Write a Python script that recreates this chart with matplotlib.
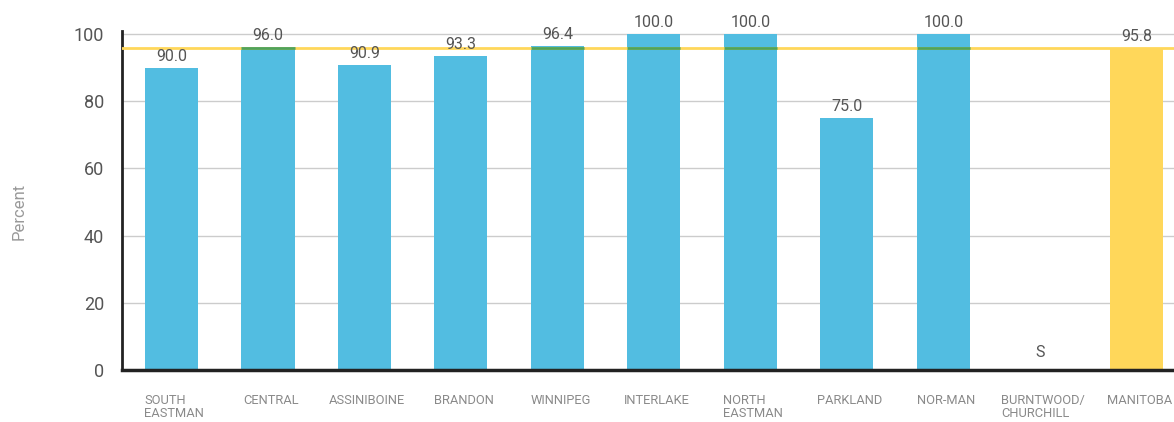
import matplotlib.pyplot as plt

# Data
regions = ['SOUTH\nEASTMAN', 'CENTRAL', 'ASSINIBOINE', 'BRANDON', 'WINNIPEG', 'INTERLAKE',
           'NORTH\nEASTMAN', 'PARKLAND', 'NOR-MAN', 'BURNTWOOD/\nCHURCHILL', 'MANITOBA']
values = [90.0, 96.0, 90.9, 93.3, 96.4, 100.0, 100.0, 75.0, 100.0, None, 95.8]
manitoba_avg = 95.8
yticks = [0, 20, 40, 60, 80, 100]

blue = '#52BDE1'
yellow = '#FFD75A'
green = '#4FA35C'
bar_w = 0.55

plt.rcParams['font.family'] = ['Roboto', 'DejaVu Sans']

fig = plt.figure(figsize=(11.74, 4.22), dpi=100)
ax = fig.add_axes([0.1039, 0.1232, 0.8961, 0.8043])

for i, v in enumerate(values):
    if v is None:
        ax.text(i, 3, 'S', ha='center', va='bottom', fontsize=11.5, color='#555555')
        continue
    color = yellow if regions[i] == 'MANITOBA' else blue
    ax.bar(i, v, width=bar_w, color=color, zorder=2)
    ax.text(i, v + 1.2, f'{v:.1f}', ha='center', va='bottom', fontsize=11.5,
            color='#555555', zorder=5)

# provincial average line
ax.axhline(manitoba_avg, color=yellow, lw=2, zorder=3)
for i, v in enumerate(values):
    if v is not None and v >= manitoba_avg and regions[i] != 'MANITOBA':
        ax.hlines(manitoba_avg, i - bar_w / 2, i + bar_w / 2, color=green, lw=2, zorder=4)

ax.set_xlim(-0.513, 10.39)
ax.set_ylim(0, 101)
ax.set_yticks(yticks)
ax.set_yticklabels([str(t) for t in yticks], fontsize=13, color='#555555')
ax.tick_params(axis='y', length=0, pad=13)
ax.set_xticks([])
for i, lab in enumerate(regions):
    ax.text(i + 0.03, -7, lab, ha='center', va='top', multialignment='left',
            fontsize=9.3, color='#8a8a8a', linespacing=1.0, clip_on=False)

ax.grid(axis='y', color='#cccccc', lw=1, zorder=0)
for s in ['top', 'right']:
    ax.spines[s].set_visible(False)
ax.spines['left'].set_linewidth(2)
ax.spines['bottom'].set_linewidth(2.5)
ax.spines['left'].set_color('#222222')
ax.spines['bottom'].set_color('#222222')

fig.text(0.016, 0.5, 'Percent', rotation=90, ha='center', va='center', fontsize=12,
         color='#999999')

fig.savefig('out.png', dpi=100)
